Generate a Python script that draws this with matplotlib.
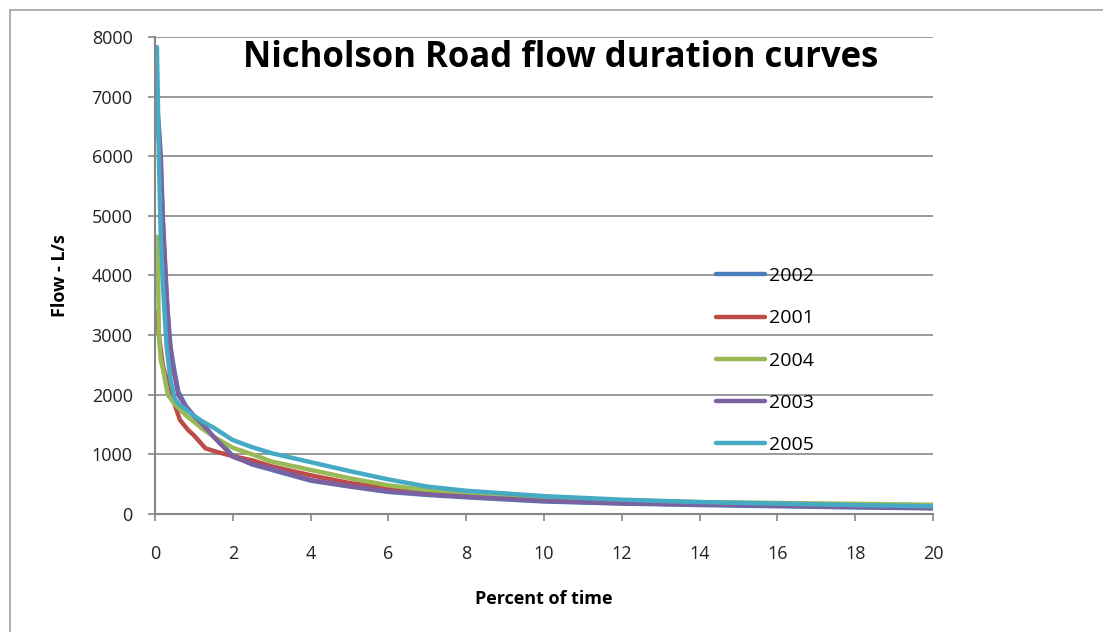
"""
plot.py - Nicholson Road flow duration curves (recriado a partir da figura).
"""

import matplotlib
matplotlib.use('Agg')
import matplotlib.pyplot as plt
from matplotlib.lines import Line2D

plt.rcParams['font.family'] = ['Open Sans', 'DejaVu Sans']

# Percent of time (x) e fluxo em L/s (y)
x_2002 = [0.05, 0.1, 0.15, 0.2, 0.3, 0.4, 0.5, 0.6, 0.8, 1.0, 1.2, 1.5, 2.0, 2.5, 3, 4, 5, 6, 7, 8, 10, 12, 14, 16, 18, 20]
y_2002 = [6600, 6300, 5800, 4900, 3600, 2800, 2400, 2050, 1800, 1640, 1500, 1300, 980, 830, 740, 560, 460, 370, 320, 280, 210, 175, 150, 130, 110, 95]

x_2001 = [0.05, 0.1, 0.2, 0.26, 0.33, 0.39, 0.5, 0.64, 0.85, 1.0, 1.3, 1.6, 2.0, 2.5, 3, 4, 5, 6, 7, 8, 10, 12, 14, 16, 18, 20]
y_2001 = [3400, 3000, 2500, 2350, 2250, 2150, 1850, 1580, 1410, 1320, 1100, 1040, 970, 900, 800, 650, 520, 440, 380, 320, 250, 210, 180, 160, 140, 115]

x_2004 = [0.05, 0.08, 0.1, 0.15, 0.2, 0.33, 0.5, 0.8, 1.0, 1.16, 1.5, 2.0, 2.5, 3, 4, 5, 6, 7, 8, 10, 12, 14, 16, 18, 20]
y_2004 = [4650, 4000, 3000, 2580, 2450, 2000, 1850, 1650, 1550, 1460, 1300, 1110, 1000, 880, 740, 600, 480, 400, 350, 280, 230, 200, 185, 170, 155]

x_2003 = [0.05, 0.1, 0.15, 0.2, 0.3, 0.36, 0.45, 0.6, 0.8, 1.0, 1.2, 1.36, 1.5, 1.8, 2.0, 2.5, 3, 4, 5, 6, 7, 8, 10, 12, 14, 16, 18, 20]
y_2003 = [6900, 6500, 6000, 5000, 3700, 3000, 2500, 2000, 1800, 1650, 1520, 1410, 1300, 1100, 960, 840, 760, 570, 470, 380, 330, 290, 220, 180, 160, 140, 120, 100]

x_2005 = [0.05, 0.1, 0.15, 0.2, 0.3, 0.4, 0.5, 0.6, 0.8, 1.0, 1.2, 1.5, 2.0, 2.5, 3, 4, 5, 6, 7, 8, 10, 12, 14, 16, 18, 20]
y_2005 = [7830, 6000, 4600, 3900, 2800, 2250, 1950, 1850, 1750, 1650, 1560, 1450, 1240, 1120, 1020, 870, 720, 580, 460, 390, 300, 240, 200, 175, 150, 130]

series = [
    ('2002', x_2002, y_2002, '#4A7EBB'),
    ('2001', x_2001, y_2001, '#BE4B48'),
    ('2004', x_2004, y_2004, '#98B954'),
    ('2003', x_2003, y_2003, '#7D60A0'),
    ('2005', x_2005, y_2005, '#46AAC5'),
]

fig = plt.figure(figsize=(11.03, 6.32), dpi=100)
ax = fig.add_axes([0.1405, 0.1867, 0.7054, 0.7548])

# moldura cinza da área do gráfico (Excel)
fig.add_artist(Line2D([10 / 1103, 1.0], [1 - 10 / 632, 1 - 10 / 632],
                      transform=fig.transFigure, color='#A0A0A0', lw=1.2))
fig.add_artist(Line2D([10 / 1103, 10 / 1103], [0, 1 - 10 / 632],
                      transform=fig.transFigure, color='#A0A0A0', lw=1.2))

for nome, xs, ys, cor in series:
    ax.plot(xs, ys, color=cor, lw=3.2, label=nome, solid_capstyle='round')

ax.set_xlim(0, 20)
ax.set_ylim(0, 8000)
ax.set_xticks(range(0, 21, 2))
ax.set_yticks(range(0, 8001, 1000))
ax.grid(axis='y', color='#868686', lw=1.2)
ax.set_axisbelow(True)

for s in ['top', 'right']:
    ax.spines[s].set_visible(False)
for s in ['left', 'bottom']:
    ax.spines[s].set_color('#868686')
    ax.spines[s].set_linewidth(1.5)

ax.tick_params(axis='x', length=5, width=1.2, color='#868686', pad=17, labelsize=13, labelcolor='#222222')
ax.tick_params(axis='y', length=5, width=1.2, color='#868686', pad=11, labelsize=13, labelcolor='#222222')

ax.set_xlabel('Percent of time', fontsize=13, fontweight='bold', labelpad=20)
ax.set_ylabel('Flow - L/s', fontsize=13, fontweight='bold', labelpad=16)

ax.text(0.522, 0.955, 'Nicholson Road flow duration curves', transform=ax.transAxes,
        ha='center', va='center', fontsize=25, fontweight='bold')

ax.legend(loc='upper left', bbox_to_anchor=(716 / 1103, 1 - 267 / 632),
          bbox_transform=fig.transFigure, frameon=False, fontsize=14,
          handlelength=2.5, handletextpad=0.2, labelspacing=1.25,
          borderpad=0, borderaxespad=0)

plt.savefig('out.png', dpi=100)
plt.close()
